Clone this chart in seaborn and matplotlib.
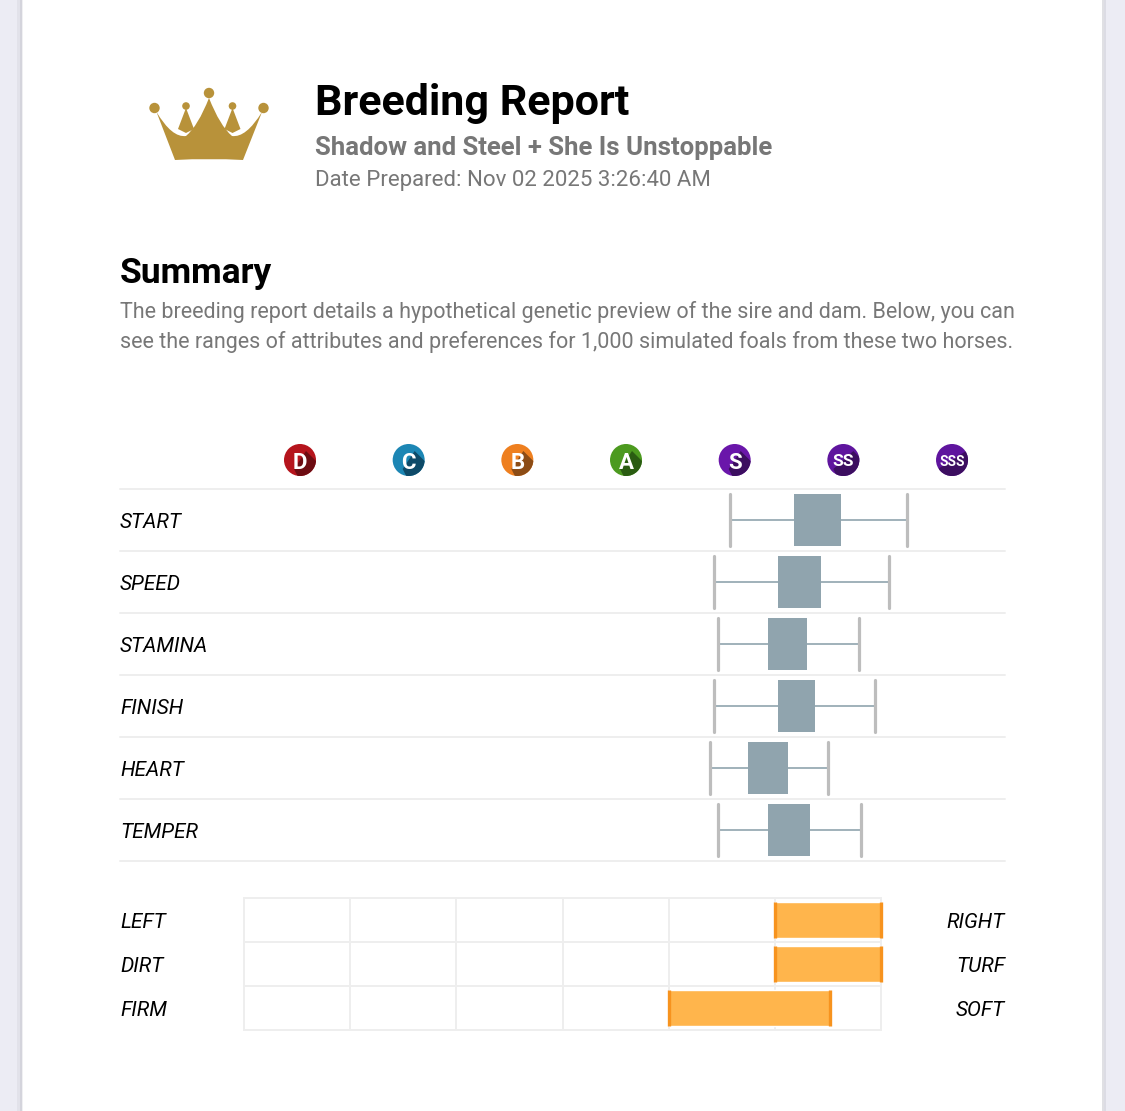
"""Breeding report: rangos de atributos y preferencias de 1,000 potros simulados."""

import matplotlib.pyplot as plt
import pandas as pd
import seaborn as sns
from matplotlib.patches import Circle, PathPatch, Polygon, Rectangle
from matplotlib.path import Path

W, H = 1125, 1111

grades = ["D", "C", "B", "A", "S", "SS", "SSS"]
grade_colors = ["#b5141c", "#1c86b4", "#ee7f1f", "#4c9a1f", "#6a16aa", "#5f159e", "#5f159e"]
grade_shadows = ["#6d0c12", "#0e4a68", "#8c4c16", "#2a5c12", "#3c0e60", "#3c0e60", "#3c0e60"]

attributes = ["START", "SPEED", "STAMINA", "FINISH", "HEART", "TEMPER"]
attr_low = [3.96, 3.81, 3.85, 3.81, 3.77, 3.85]
attr_q1 = [4.55, 4.40, 4.31, 4.40, 4.12, 4.31]
attr_mid = [4.77, 4.60, 4.49, 4.57, 4.30, 4.50]
attr_q3 = [4.98, 4.79, 4.67, 4.74, 4.49, 4.69]
attr_high = [5.59, 5.42, 5.14, 5.29, 4.86, 5.16]

pref_left = ["LEFT", "DIRT", "FIRM"]
pref_right = ["RIGHT", "TURF", "SOFT"]
pref_start = [5.0, 5.0, 4.0]
pref_end = [6.0, 6.0, 5.52]

FONT = "Roboto"
GREY = "#777777"
LINE = "#eeeeee"
sns.set_theme(style="white")
plt.rcParams["font.family"] = [FONT, "DejaVu Sans"]


def px_axes(fig, x0, y0, x1, y1, **kw):
    # ejes colocados en píxeles de la imagen (y hacia abajo)
    return fig.add_axes([x0 / W, 1 - y1 / H, (x1 - x0) / W, (y1 - y0) / H], **kw)


def draw_page(ax):
    ax.set_xlim(0, W)
    ax.set_ylim(H, 0)
    ax.axis("off")
    for x0, x1, c in [
        (0, 17, "#ececf4"), (17, 20, "#e2e2ea"), (20, 22, "#d4d4dc"), (22, 23, "#f0f0f2"),
        (1102, 1104, "#e0e0e4"), (1104, 1106, "#dcdce4"), (1106, W, "#ececf4"),
    ]:
        ax.add_patch(Rectangle((x0, 0), x1 - x0, H, color=c, lw=0))


def draw_crown(ax):
    gold = "#b8923a"
    verts = [
        (156.5, 112), (172, 138), (186, 136), (198, 126), (209, 98), (220, 126), (232, 136),
        (246, 138), (262, 112), (243, 160), (209, 158), (175, 160), (156.5, 112),
    ]
    codes = [Path.MOVETO, Path.CURVE3, Path.CURVE3, Path.CURVE3, Path.CURVE3, Path.CURVE3,
             Path.CURVE3, Path.CURVE3, Path.CURVE3, Path.LINETO, Path.CURVE3, Path.CURVE3,
             Path.CLOSEPOLY]
    ax.add_patch(PathPatch(Path(verts, codes), color=gold, lw=0))
    for cx, r in [(186, 3.8), (232.5, 3.8)]:
        ax.add_patch(Circle((cx, 106), r, color=gold, lw=0))
        ax.add_patch(Polygon([(cx, 108), (cx + 8, 129), (cx, 133), (cx - 8, 129)], color=gold, lw=0))
    for cx, cy in [(154.5, 108), (209, 93), (263.5, 108)]:
        ax.add_patch(Circle((cx, cy), 5.2, color=gold, lw=0))


def draw_texts(ax):
    ax.text(315, 115, "Breeding Report", fontsize=31, fontweight="bold", color="black")
    ax.text(315, 155, "Shadow and Steel + She Is Unstoppable", fontsize=18.5, fontweight="bold", color=GREY)
    ax.text(315, 186, "Date Prepared: Nov 02 2025 3:26:40 AM", fontsize=16, color=GREY)
    ax.text(120, 283, "Summary", fontsize=25.5, fontweight="bold", color="black")
    ax.text(120, 318, "The breeding report details a hypothetical genetic preview of the sire and dam. Below, you can",
            fontsize=15.5, color=GREY)
    ax.text(120, 348, "see the ranges of attributes and preferences for 1,000 simulated foals from these two horses.",
            fontsize=15.5, color=GREY)


def draw_badges(ax):
    # misma escala en x e y para que los círculos salgan redondos
    unit = 108.67
    ax.set_xlim(-180 / unit, 705 / unit)
    ax.set_ylim(22 / unit, -22 / unit)
    ax.axis("off")
    for i, (g, c, s) in enumerate(zip(grades, grade_colors, grade_shadows)):
        disc = Circle((i, 0), 16 / unit, color=c, lw=0)
        ax.add_patch(disc)
        half = (2 + 4 * len(g)) / unit
        band = Polygon(
            [(i + half, -9 / unit), (i + half + 20 / unit, 11 / unit),
             (i + 10 / unit - half, 29 / unit), (i - half, 9 / unit)],
            color=s, lw=0,
        )
        ax.add_patch(band)
        band.set_clip_path(disc)
        size = {1: 16, 2: 12.5, 3: 10}[len(g)]
        ax.text(i, 0.5 / unit, g, color="white", fontsize=size, fontweight="bold",
                ha="center", va="center_baseline", fontstretch="condensed")


def draw_attributes(ax):
    df = pd.DataFrame(
        [
            (a, v)
            for a, *vals in zip(attributes, attr_low, attr_q1, attr_mid, attr_q3, attr_high)
            for v in vals
        ],
        columns=["attribute", "grade"],
    )
    sns.boxplot(
        data=df, x="grade", y="attribute", order=attributes, orient="h", ax=ax,
        whis=(0, 100), width=0.85, color="#90a4ae", saturation=1, showfliers=False,
        capwidths=0.85, boxprops={"linewidth": 0}, medianprops={"linewidth": 0},
        whiskerprops={"color": "#90a4ae", "linewidth": 1.2},
        capprops={"color": "#bdbdbd", "linewidth": 2.3},
    )
    ax.set_xlim(-180 / 108.67, 705 / 108.67)
    ax.set_ylim(5.5, -0.5)
    for y in range(len(attributes) + 1):
        ax.axhline(y - 0.5, color=LINE, lw=1.4, clip_on=False, zorder=0)
    for y, a in enumerate(attributes):
        ax.text(0, y, a, transform=ax.get_yaxis_transform(), fontsize=15, fontstyle="italic",
                color="black", va="center_baseline")
    ax.axis("off")


def draw_preferences(ax, ax_page):
    df = pd.DataFrame({"pref": pref_left, "start": pref_start, "end": pref_end})
    df["span"] = df["end"] - df["start"]
    sns.barplot(data=df, x="span", y="pref", left=df["start"], orient="h", ax=ax,
                color="#ffb54c", saturation=1, width=0.81, zorder=3)
    ax.set_xlim(0, 6)
    ax.set_ylim(2.5, -0.5)
    ax.set_xticks(range(7))
    ax.set_yticks([-0.5, 0.5, 1.5, 2.5])
    ax.grid(True, color=LINE, lw=1.4)
    ax.set_axisbelow(True)
    ax.tick_params(length=0, labelleft=False, labelbottom=False)
    ax.set_xlabel("")
    ax.set_ylabel("")
    for s in ax.spines.values():
        s.set_color(LINE)
        s.set_linewidth(1.4)
    for y, (a, b) in enumerate(zip(pref_start, pref_end)):
        ax.vlines([a, b], y - 0.405, y + 0.405, color="#f7931e", lw=2.4, zorder=4, clip_on=False)
    for y, (l, r) in enumerate(zip(pref_left, pref_right)):
        py = 920 + y * 44
        ax_page.text(120, py, l, fontsize=15, fontstyle="italic", color="black", va="center_baseline")
        ax_page.text(1005, py, r, fontsize=15, fontstyle="italic", color="black", va="center_baseline", ha="right")


fig = plt.figure(figsize=(W / 100, H / 100), dpi=100, facecolor="white")
ax_page = px_axes(fig, 0, 0, W, H)
draw_page(ax_page)
draw_crown(ax_page)
draw_texts(ax_page)
draw_badges(px_axes(fig, 120, 438, 1005, 482, facecolor="none"))
draw_attributes(px_axes(fig, 120, 489, 1005, 861, facecolor="none"))
draw_preferences(px_axes(fig, 244, 898, 881, 1030, facecolor="none"), ax_page)
fig.savefig("out.png", dpi=100)
plt.close(fig)
